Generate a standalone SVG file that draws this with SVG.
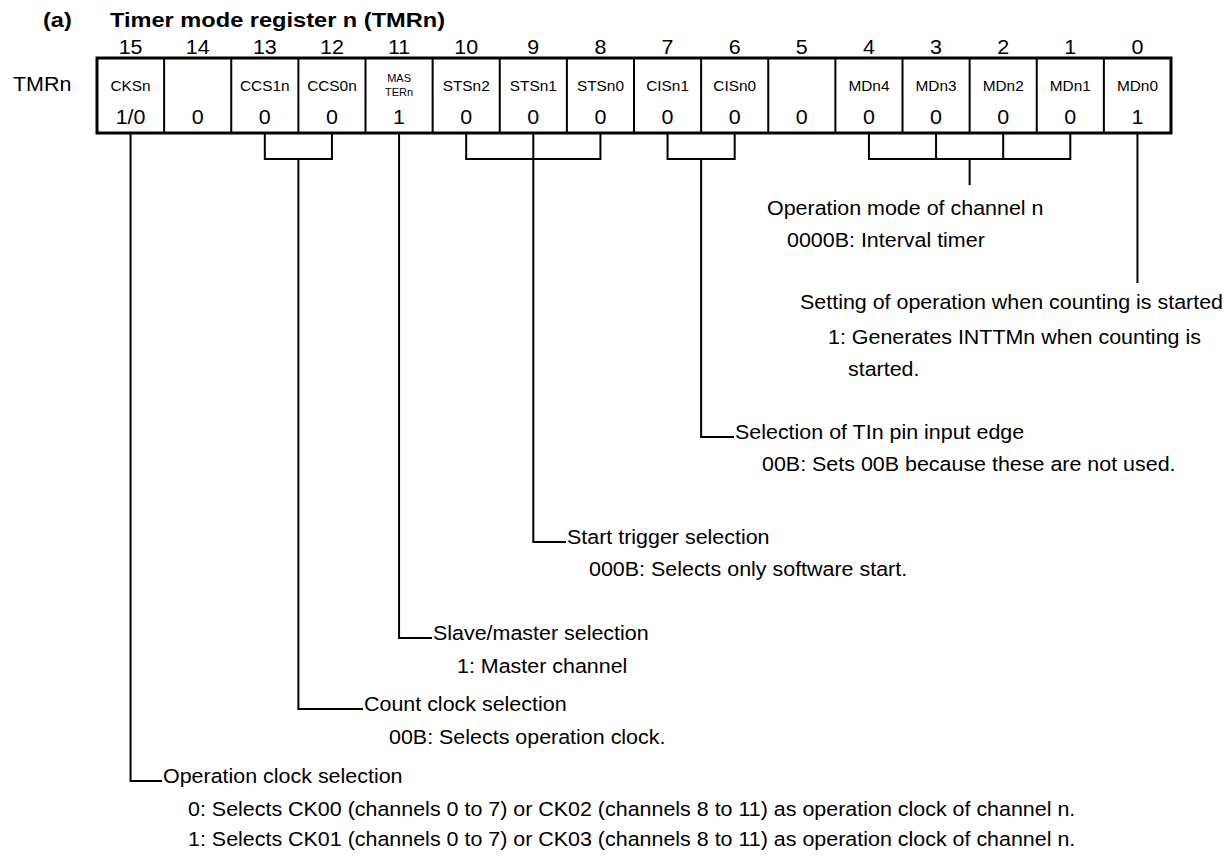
<svg xmlns="http://www.w3.org/2000/svg" width="1230" height="857" viewBox="0 0 1230 857">
<style>
text{font-family:"Liberation Sans",Arial,Helvetica,sans-serif;fill:#000}
.ttl{font-size:20px;font-weight:bold}
.num{font-size:19.5px;text-anchor:middle}
.lab{font-size:14px;text-anchor:middle}
.val{font-size:19.5px;text-anchor:middle}
.sm{font-size:10.5px;text-anchor:middle}
.bd{font-size:19.5px}
.ln{stroke:#000;stroke-width:2;fill:none}
.cell{stroke:#000;stroke-width:2;fill:none}
</style>
<rect width="1230" height="857" fill="#fff"/>
<g id="title">
<text class="ttl" transform="translate(43,27) scale(1.18,1)">(a)</text>
<text class="ttl" transform="translate(110,27) scale(1.18,1)">Timer mode register n (TMRn)</text>
</g>
<g id="register">
<text class="bd" transform="translate(13,91) scale(1.1,1)">TMRn</text>
<g id="bitnums">
<text class="num" transform="translate(130.56,54) scale(1.1,1)">15</text>
<text class="num" transform="translate(197.69,54) scale(1.1,1)">14</text>
<text class="num" transform="translate(264.81,54) scale(1.1,1)">13</text>
<text class="num" transform="translate(331.94,54) scale(1.1,1)">12</text>
<text class="num" transform="translate(399.06,54) scale(1.1,1)">11</text>
<text class="num" transform="translate(466.19,54) scale(1.1,1)">10</text>
<text class="num" transform="translate(533.31,54) scale(1.1,1)">9</text>
<text class="num" transform="translate(600.44,54) scale(1.1,1)">8</text>
<text class="num" transform="translate(667.56,54) scale(1.1,1)">7</text>
<text class="num" transform="translate(734.69,54) scale(1.1,1)">6</text>
<text class="num" transform="translate(801.81,54) scale(1.1,1)">5</text>
<text class="num" transform="translate(868.94,54) scale(1.1,1)">4</text>
<text class="num" transform="translate(936.06,54) scale(1.1,1)">3</text>
<text class="num" transform="translate(1003.19,54) scale(1.1,1)">2</text>
<text class="num" transform="translate(1070.31,54) scale(1.1,1)">1</text>
<text class="num" transform="translate(1137.44,54) scale(1.1,1)">0</text>
</g>
<g id="cells">
<path class="cell" d="M164.125 58V133M231.25 58V133M298.375 58V133M365.5 58V133M432.625 58V133M499.75 58V133M566.875 58V133M634 58V133M701.125 58V133M768.25 58V133M835.375 58V133M902.5 58V133M969.625 58V133M1036.75 58V133M1103.875 58V133"/>
<rect x="97" y="58" width="1074" height="75" fill="none" stroke="#000" stroke-width="3"/>
</g>
<g id="labels">
<text class="lab" transform="translate(130.56,91) scale(1.1,1)">CKSn</text>
<text class="lab" transform="translate(264.81,91) scale(1.1,1)">CCS1n</text>
<text class="lab" transform="translate(331.94,91) scale(1.1,1)">CCS0n</text>
<text class="sm" transform="translate(399.06,82) scale(1.05,1)">MAS</text>
<text class="sm" transform="translate(399.06,96) scale(1.05,1)">TERn</text>
<text class="lab" transform="translate(466.19,91) scale(1.1,1)">STSn2</text>
<text class="lab" transform="translate(533.31,91) scale(1.1,1)">STSn1</text>
<text class="lab" transform="translate(600.44,91) scale(1.1,1)">STSn0</text>
<text class="lab" transform="translate(667.56,91) scale(1.1,1)">CISn1</text>
<text class="lab" transform="translate(734.69,91) scale(1.1,1)">CISn0</text>
<text class="lab" transform="translate(868.94,91) scale(1.1,1)">MDn4</text>
<text class="lab" transform="translate(936.06,91) scale(1.1,1)">MDn3</text>
<text class="lab" transform="translate(1003.19,91) scale(1.1,1)">MDn2</text>
<text class="lab" transform="translate(1070.31,91) scale(1.1,1)">MDn1</text>
<text class="lab" transform="translate(1137.44,91) scale(1.1,1)">MDn0</text>
</g>
<g id="values">
<text class="val" transform="translate(130.56,124) scale(1.1,1)">1/0</text>
<text class="val" transform="translate(197.69,124) scale(1.1,1)">0</text>
<text class="val" transform="translate(264.81,124) scale(1.1,1)">0</text>
<text class="val" transform="translate(331.94,124) scale(1.1,1)">0</text>
<text class="val" transform="translate(399.06,124) scale(1.1,1)">1</text>
<text class="val" transform="translate(466.19,124) scale(1.1,1)">0</text>
<text class="val" transform="translate(533.31,124) scale(1.1,1)">0</text>
<text class="val" transform="translate(600.44,124) scale(1.1,1)">0</text>
<text class="val" transform="translate(667.56,124) scale(1.1,1)">0</text>
<text class="val" transform="translate(734.69,124) scale(1.1,1)">0</text>
<text class="val" transform="translate(801.81,124) scale(1.1,1)">0</text>
<text class="val" transform="translate(868.94,124) scale(1.1,1)">0</text>
<text class="val" transform="translate(936.06,124) scale(1.1,1)">0</text>
<text class="val" transform="translate(1003.19,124) scale(1.1,1)">0</text>
<text class="val" transform="translate(1070.31,124) scale(1.1,1)">0</text>
<text class="val" transform="translate(1137.44,124) scale(1.1,1)">1</text>
</g>
</g>
<g id="connectors">
<path class="ln" d="M130.56 134V781H162"/>
<path class="ln" d="M264.81 134V159H331.94V134M298.375 159V709H363"/>
<path class="ln" d="M399.06 134V638H432"/>
<path class="ln" d="M466.19 134V159H600.44V134M533.31 134V542H566"/>
<path class="ln" d="M667.56 134V159H734.69V134M701.125 159V437H734"/>
<path class="ln" d="M868.94 134V159H1070.31V134M936.06 134V159M1003.19 134V159M969.625 159V185"/>
<path class="ln" d="M1137.44 134V283"/>
</g>
<g id="desc-mode">
<text class="bd" transform="translate(767,215) scale(1.1,1)">Operation mode of channel n</text>
<text class="bd" transform="translate(787,247) scale(1.1,1)">0000B: Interval timer</text>
</g>
<g id="desc-start">
<text class="bd" transform="translate(800,309) scale(1.1,1)">Setting of operation when counting is started</text>
<text class="bd" transform="translate(828,344) scale(1.1,1)">1: Generates INTTMn when counting is</text>
<text class="bd" transform="translate(848,376) scale(1.1,1)">started.</text>
</g>
<g id="desc-cis">
<text class="bd" transform="translate(735,439) scale(1.1,1)">Selection of TIn pin input edge</text>
<text class="bd" transform="translate(762,471) scale(1.1,1)">00B: Sets 00B because these are not used.</text>
</g>
<g id="desc-sts">
<text class="bd" transform="translate(567,544) scale(1.1,1)">Start trigger selection</text>
<text class="bd" transform="translate(589,576) scale(1.1,1)">000B: Selects only software start.</text>
</g>
<g id="desc-master">
<text class="bd" transform="translate(433,640) scale(1.1,1)">Slave/master selection</text>
<text class="bd" transform="translate(457,673) scale(1.1,1)">1: Master channel</text>
</g>
<g id="desc-ccs">
<text class="bd" transform="translate(364,711) scale(1.1,1)">Count clock selection</text>
<text class="bd" transform="translate(389,744) scale(1.1,1)">00B: Selects operation clock.</text>
</g>
<g id="desc-cks">
<text class="bd" transform="translate(163,783) scale(1.1,1)">Operation clock selection</text>
<text class="bd" transform="translate(188,816) scale(1.1,1)">0: Selects CK00 (channels 0 to 7) or CK02 (channels 8 to 11) as operation clock of channel n.</text>
<text class="bd" transform="translate(188,846) scale(1.1,1)">1: Selects CK01 (channels 0 to 7) or CK03 (channels 8 to 11) as operation clock of channel n.</text>
</g>
</svg>
